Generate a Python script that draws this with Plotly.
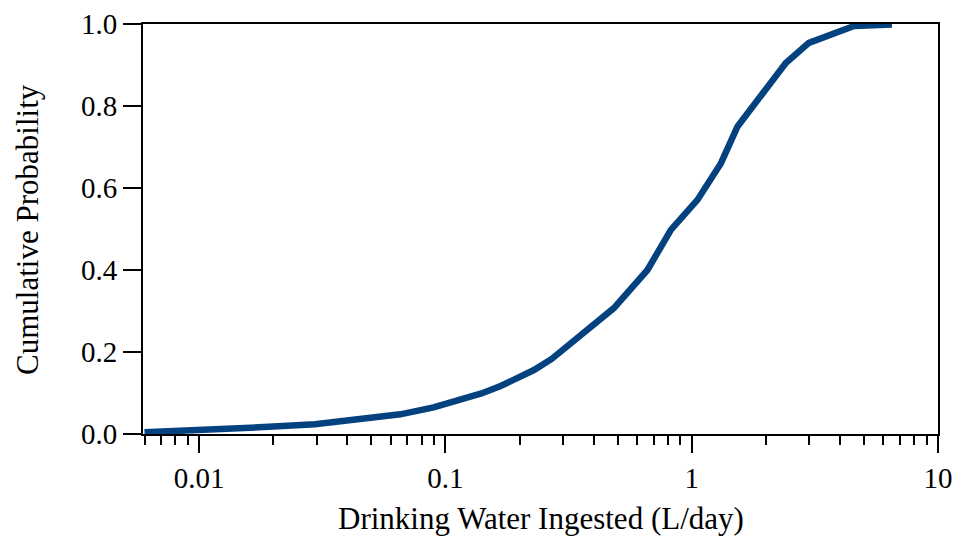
import plotly.graph_objects as go

# Cumulative distribution of daily drinking water intake
intake_l_per_day = [0.006, 0.0107, 0.02, 0.0295, 0.0374, 0.05, 0.0656, 0.0895,
                    0.1225, 0.14, 0.1675, 0.19, 0.2287, 0.27, 0.3126, 0.37,
                    0.483, 0.661, 0.823, 1.055, 1.313, 1.535, 1.967, 2.41,
                    2.99, 4.56, 6.5]
cum_prob = [0.004, 0.0098, 0.018, 0.024, 0.032, 0.039, 0.048, 0.065,
            0.087, 0.099, 0.117, 0.133, 0.156, 0.183, 0.213, 0.249,
            0.307, 0.40, 0.498, 0.571, 0.66, 0.75, 0.832, 0.905,
            0.954, 0.995, 0.999]

x_major = [0.01, 0.1, 1, 10]
x_major_text = ["0.01", "0.1", "1", "10"]
x_minor = [0.006, 0.007, 0.008, 0.009] + \
          [k / 100 for k in range(2, 10)] + \
          [k / 10 for k in range(2, 10)] + \
          [float(k) for k in range(2, 10)]
y_major = [0.0, 0.2, 0.4, 0.6, 0.8, 1.0]
y_major_text = ["0.0", "0.2", "0.4", "0.6", "0.8", "1.0"]

FONT = "Liberation Serif"
LINE_COLOR = "#04427f"

fig = go.Figure()
fig.add_trace(go.Scatter(
    x=intake_l_per_day, y=cum_prob, mode="lines",
    line=dict(color=LINE_COLOR, width=6.5),
    cliponaxis=False, showlegend=False,
))

fig.update_layout(
    width=956, height=538,
    margin=dict(l=143, r=18, t=24, b=104),
    paper_bgcolor="white", plot_bgcolor="white",
    font=dict(family=FONT, color="black", size=29),
    xaxis=dict(
        type="log", range=[-2.228, 1.0], automargin=False,
        showline=True, linecolor="black", linewidth=2, mirror=True,
        showgrid=False, zeroline=False,
        ticks="outside", ticklen=17, tickwidth=2, tickcolor="black",
        tickvals=x_major, ticktext=x_major_text,
        tickfont=dict(family=FONT, size=29, color="black"),
        minor=dict(ticks="outside", ticklen=9, tickwidth=2, tickcolor="black",
                   tickvals=x_minor, showgrid=False),
    ),
    yaxis=dict(
        range=[0, 1.0], automargin=False,
        showline=True, linecolor="black", linewidth=2, mirror=True,
        showgrid=False, zeroline=False,
        ticks="outside", ticklen=18, tickwidth=2, tickcolor="black",
        tickvals=y_major, ticktext=y_major_text,
        tickfont=dict(family=FONT, size=29, color="black"),
    ),
    annotations=[
        dict(text="Drinking Water Ingested (L/day)", xref="paper", yref="paper",
             x=0.5, y=-0.207, xanchor="center", yanchor="middle",
             showarrow=False, font=dict(family=FONT, size=31, color="black")),
        dict(text="Cumulative Probability", xref="paper", yref="paper",
             x=-0.146, y=0.5, xanchor="center", yanchor="middle", textangle=-90,
             showarrow=False, font=dict(family=FONT, size=31, color="black")),
    ],
)

fig.write_html("out.html")
